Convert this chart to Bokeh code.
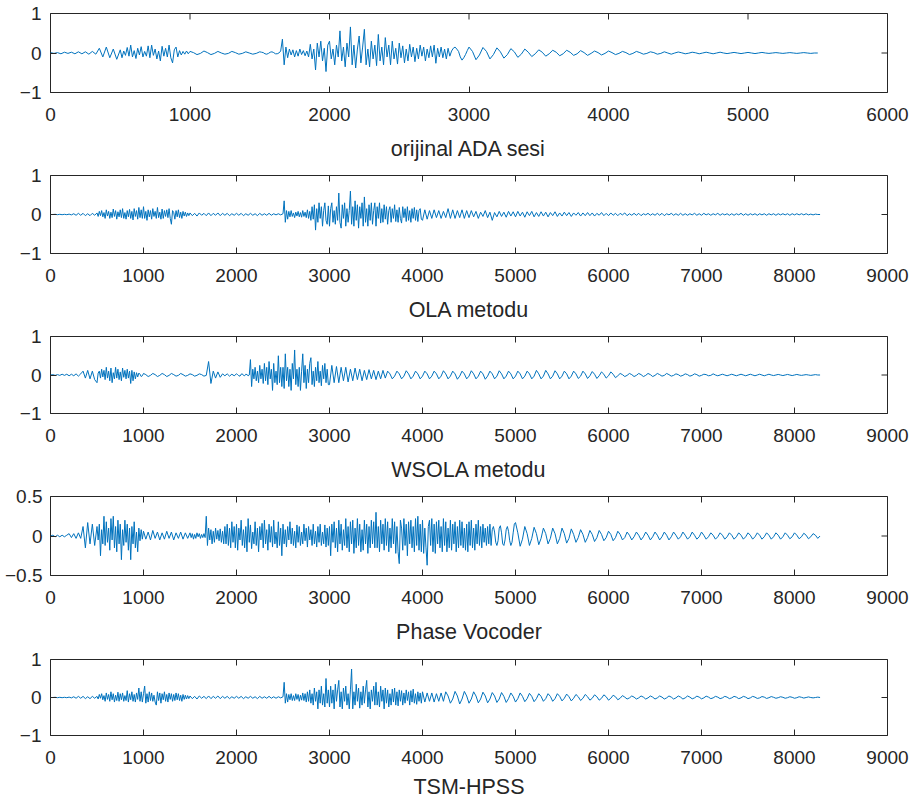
import math
from bokeh.plotting import figure
from bokeh.layouts import column
from bokeh.models import Range1d, FixedTicker, ColumnDataSource
from bokeh.embed import file_html
from bokeh.resources import INLINE

# Each series is a list of rows; one row = one 500-sample block of peak values
# (20 values = every 25 samples, 40 values = every 12.5 samples in busy parts).
BLOCK = 500

orijinal = [
    [0.01, -0.01, 0.01, -0.02, 0.02, -0.01, 0.02, -0.02, 0.03, -0.02, 0.03, -0.03, 0.04, -0.03, 0.12, -0.1, 0.15, -0.12, 0.1, -0.16],
    [0.08, -0.12, 0.05, -0.06, 0.14, -0.08, 0.2, -0.1, 0.06, -0.14,
     0.12, -0.05, 0.16, -0.1, 0.04, -0.08, 0.18, -0.12, 0.2, -0.06,
     0.1, -0.15, 0.05, -0.2, 0.17, -0.08, 0.12, -0.1, 0.2, -0.12,
     -0.25, 0.08, 0.15, -0.1, 0.06, -0.05, 0.04, -0.03, 0.05, -0.02],
    [0.04, 0.01, -0.04, -0.01, 0.05, 0.01, -0.04, -0.01, 0.04, 0.0, -0.03, -0.01, 0.04, 0.01, -0.03, -0.01, 0.03, 0.0, -0.03, -0.01],
    [0.03, 0.02, 0.01, -0.02, -0.03, -0.01, 0.02, 0.03, 0.01, -0.02, -0.02, 0.0,
     0.05, 0.35, -0.3, 0.15,
     -0.12, 0.1, -0.05, 0.08, -0.1, 0.06, -0.08, 0.1, -0.04, 0.06, -0.07, 0.05,
     -0.1, 0.22, -0.15, 0.1, -0.43, 0.25, -0.1, 0.3, -0.2, 0.12, -0.47, 0.2],
    [0.3, -0.15, 0.1, -0.3, 0.2, -0.1, 0.56, -0.2, 0.15, -0.35,
     0.25, -0.1, 0.66, -0.3, 0.2, -0.38, 0.1, 0.43, -0.25, 0.15,
     0.6, -0.3, 0.1, -0.35, 0.3, -0.15, 0.2, -0.32, 0.47, -0.2,
     0.15, -0.3, 0.39, -0.1, 0.2, -0.3, 0.3, -0.15, 0.12, -0.28],
    [0.25, -0.12, 0.18, -0.25, 0.1, -0.2, 0.22, -0.1, 0.15, -0.22,
     0.12, -0.15, 0.2, -0.08, 0.15, -0.2, 0.1, -0.12, 0.18, -0.1,
     0.2, -0.26, 0.12, -0.1, 0.15, -0.12, 0.1, -0.15, 0.12, -0.08,
     0.05, 0.12, 0.15, 0.1, 0.04, -0.1, -0.18, -0.12, -0.04, 0.06],
    [0.15, 0.04, -0.17, -0.05, 0.14, 0.04, -0.15, -0.04, 0.13, 0.03, -0.13, -0.04, 0.11, 0.03, -0.11, -0.03, 0.1, 0.02, -0.09, -0.02],
    [0.08, 0.02, -0.08, -0.02, 0.07, 0.02, -0.07, -0.02, 0.07, 0.02, -0.06, -0.02, 0.06, 0.01, -0.06, -0.01, 0.05, 0.01, -0.05, -0.01],
    [0.05, 0.01, -0.04, -0.01, 0.04, 0.01, -0.04, -0.01, 0.04, 0.01, -0.03, -0.01, 0.03, 0.01, -0.03, -0.01, 0.03, 0.0, -0.03, 0.0],
    [0.025, 0.005, -0.02, -0.005, 0.02, 0.005, -0.02, 0.0, 0.02, 0.0, -0.02, 0.0, 0.02, 0.0, -0.015, 0.0, 0.015, 0.0, -0.015, 0.0],
    [0.015, 0.0, -0.015, 0.0, 0.015, 0.0, -0.01, 0.0, 0.01, 0.0, -0.01, 0.0, 0.01, 0.0, -0.01, 0.0, 0.01, 0.0, -0.01, 0.0],
    [0.0],
]

ola = [
    [0.0, 0.0, 0.005, -0.005, 0.005, -0.005, 0.005, -0.005, 0.01, -0.01, 0.02, -0.02, 0.03, -0.02, 0.03, -0.03, 0.02, -0.03, 0.03, -0.02],
    [0.04, -0.05, 0.08, -0.03, 0.1, -0.06, 0.05, -0.1, 0.12, -0.04,
     0.08, -0.1, 0.06, -0.08, 0.14, -0.05, 0.1, -0.12, 0.07, -0.06,
     0.12, -0.08, 0.15, -0.1, 0.05, -0.12, 0.1, -0.06, 0.13, -0.1,
     0.08, -0.14, 0.15, -0.05, 0.1, -0.12, 0.18, -0.08, 0.12, -0.1],
    [0.2, -0.1, 0.08, -0.15, 0.12, -0.06, 0.1, -0.12, 0.15, -0.05,
     0.08, -0.1, 0.18, -0.08, 0.06, -0.12, 0.14, -0.1, 0.1, -0.05,
     0.12, -0.08, 0.15, -0.1, -0.25, 0.1, 0.05, -0.12, 0.1, -0.06,
     0.12, -0.08, 0.06, -0.1, 0.08, -0.04, 0.06, -0.05, 0.04, -0.03],
    [0.04, -0.03, 0.03, -0.04, 0.04, -0.02, 0.03, -0.03, 0.04, -0.03, 0.03, -0.02, 0.04, -0.03, 0.03, -0.02, 0.03, -0.03, 0.02, -0.02],
    [0.03, -0.02, 0.03, -0.03, 0.02, -0.02, 0.03, -0.02, 0.02, -0.03, 0.03, -0.02, 0.02, -0.02, 0.03, -0.02, 0.02, -0.01, 0.02, -0.01],
    [0.02, 0.35, -0.2, 0.1, -0.12, 0.08, -0.06, 0.1, -0.05, 0.04,
     -0.08, 0.06, -0.04, 0.08, -0.06, 0.05, -0.07, 0.1, -0.05, 0.06,
     -0.08, 0.12, -0.1, 0.08, -0.15, 0.2, -0.12, 0.25, -0.4, 0.15,
     -0.2, 0.3, -0.1, 0.2, -0.3, 0.1, 0.3, -0.15, -0.25, 0.22],
    [-0.3, 0.15, 0.3, -0.2, 0.1, -0.25, 0.2, -0.15, 0.55, -0.2,
     -0.35, 0.25, -0.1, 0.3, -0.3, 0.15, -0.2, 0.1, 0.6, -0.25,
     0.2, -0.3, 0.35, -0.15, 0.25, -0.35, 0.2, -0.1, 0.3, -0.3,
     0.45, -0.2, 0.15, -0.3, 0.25, -0.15, 0.3, -0.25, 0.1, 0.3],
    [-0.3, 0.2, -0.1, 0.3, -0.22, 0.15, -0.2, 0.25, -0.12, 0.2,
     -0.25, 0.1, 0.2, -0.2, 0.15, -0.1, 0.25, -0.18, 0.12, -0.2,
     0.18, -0.1, -0.22, 0.2, -0.08, 0.15, -0.18, 0.2, -0.15, 0.1,
     -0.2, 0.15, -0.1, 0.18, -0.15, 0.12, -0.18, 0.1, 0.15, -0.12],
    [-0.15, 0.12, -0.12, 0.1, -0.1, 0.12, -0.08, 0.1, -0.1, 0.08, -0.08, 0.15, -0.1, 0.12, -0.1, 0.1, -0.08, 0.12, -0.1, 0.1],
    [-0.08, 0.1, -0.06, 0.08, -0.1, 0.06, -0.05, 0.1, -0.08, 0.06, -0.15, 0.05, -0.06, 0.08, -0.05, 0.06, -0.07, 0.08, -0.04, 0.07],
    [-0.06, 0.08, -0.04, 0.06, -0.07, 0.07, -0.03, 0.08, -0.06, 0.05, -0.05, 0.07, -0.04, 0.06, -0.06, 0.05, -0.03, 0.07, -0.05, 0.04],
    [-0.04, 0.06, -0.03, 0.05, -0.05, 0.04, -0.02, 0.05, -0.04, 0.04, -0.03, 0.05, -0.03, 0.04, -0.04, 0.03, -0.02, 0.05, -0.03, 0.03],
    [-0.03, 0.04, -0.02, 0.03, -0.03, 0.03, -0.01, 0.04, -0.03, 0.02, -0.02, 0.03, -0.02, 0.03, -0.03, 0.02, -0.01, 0.03, -0.02, 0.02],
    [-0.02, 0.03, -0.02, 0.03, -0.03, 0.02, -0.01, 0.03, -0.02, 0.02, -0.02, 0.03, -0.02, 0.02, -0.02, 0.02, -0.01, 0.03, -0.02, 0.02],
    [-0.02, 0.03, -0.01, 0.02, -0.02, 0.02, -0.01, 0.03, -0.02, 0.02, -0.01, 0.02, -0.02, 0.02, -0.02, 0.02, -0.01, 0.03, -0.02, 0.02],
    [-0.02, 0.02, -0.01, 0.02, -0.02, 0.02, -0.01, 0.02, -0.02, 0.02, -0.01, 0.02, -0.02, 0.02, -0.01, 0.02, -0.01, 0.02, -0.02, 0.02],
    [-0.01, 0.02, -0.01, 0.02, -0.01, 0.02, -0.01, 0.01, -0.01, 0.01, 0.0, 0.0],
]

wsola = [
    [0.0, 0.01, -0.01, 0.01, -0.01, 0.02, -0.01, 0.02, -0.02, 0.02, -0.02, 0.03, -0.03, 0.03, 0.1, -0.08, 0.12, -0.1, 0.1, -0.12],
    [-0.2, 0.05, 0.1, -0.08, 0.15, -0.05, 0.12, -0.12, 0.2, -0.08,
     0.1, -0.15, 0.18, -0.2, 0.06, -0.1, 0.2, -0.08, 0.15, -0.12,
     0.08, -0.15, 0.18, -0.06, 0.12, -0.1, 0.15, -0.08, 0.1, -0.22,
     0.12, -0.15, 0.08, -0.1, 0.06, -0.05, 0.05, 0.02, -0.04, -0.02],
    [0.04, 0.01, -0.04, -0.01, 0.04, 0.01, -0.04, -0.01, 0.04, 0.01, -0.04, -0.01, 0.04, 0.01, -0.03, -0.01, 0.04, 0.01, -0.03, -0.01],
    [0.03, 0.01, -0.03, -0.01, 0.03, 0.01, -0.03, -0.01, 0.35, -0.22, 0.1, -0.08, 0.08, -0.06, 0.03, -0.02, 0.03, -0.03, 0.02, -0.02],
    [0.03, 0.01, -0.02, -0.03, 0.02, 0.03, -0.01, -0.02, 0.02, 0.01, -0.02, 0.0,
     0.4, -0.3, 0.15, -0.1, 0.2, -0.15, 0.1, -0.2, 0.25, -0.1,
     0.15, -0.22, 0.3, -0.15, 0.2, -0.25, 0.35, -0.1, 0.15, -0.4,
     0.3, -0.2, 0.1, -0.25, 0.5, -0.2, 0.2, -0.3],
    [0.2, -0.35, 0.55, -0.15, 0.2, -0.3, 0.15, -0.4, 0.3, -0.1,
     0.65, -0.25, 0.15, -0.3, 0.2, -0.4, 0.1, 0.55, -0.2, 0.25,
     -0.35, 0.15, -0.2, 0.3, 0.45, -0.25, 0.1, -0.3, 0.2, -0.15,
     0.35, -0.2, 0.1, -0.28, 0.25, -0.1, 0.3, -0.2, 0.15, -0.25],
    [-0.25, 0.25, -0.2, 0.22, -0.2, 0.2, -0.15, 0.2, -0.18, 0.15, -0.15, 0.18, -0.12, 0.15, -0.15, 0.12, -0.12, 0.14, -0.1, 0.12],
    [-0.12, 0.1, -0.1, 0.12, -0.08, 0.1, 0.03, -0.1, -0.03, 0.1, 0.03, -0.1, -0.03, 0.11, 0.03, -0.1, -0.03, 0.1, 0.03, -0.1],
    [-0.03, 0.1, 0.03, -0.1, -0.03, 0.1, 0.03, -0.1, -0.03, 0.11, 0.03, -0.1, -0.03, 0.1, 0.03, -0.11, -0.03, 0.1, 0.03, -0.1],
    [-0.03, 0.11, 0.03, -0.1, -0.03, 0.1, 0.03, -0.11, -0.03, 0.1, 0.03, -0.1, -0.03, 0.11, 0.03, -0.1, -0.03, 0.1, 0.03, -0.1],
    [-0.03, 0.1, 0.03, -0.1, -0.03, 0.1, 0.03, -0.1, -0.03, 0.12, 0.03, -0.1, -0.03, 0.12, 0.03, -0.1, -0.03, 0.11, 0.03, -0.1],
    [-0.03, 0.1, 0.03, -0.1, -0.03, 0.1, 0.03, -0.09, -0.03, 0.1, 0.03, -0.09, -0.02, 0.09, 0.02, -0.09, -0.02, 0.08, 0.02, -0.08],
    [-0.02, 0.08, 0.02, -0.07, -0.02, 0.04, 0.01, -0.04, -0.01, 0.04, 0.01, -0.04, -0.01, 0.04, 0.01, -0.04, -0.01, 0.04, 0.01, -0.04],
    [-0.01, 0.04, 0.01, -0.03, -0.01, 0.04, 0.01, -0.03, -0.01, 0.03, 0.01, -0.03, -0.01, 0.03, 0.01, -0.03, -0.01, 0.03, 0.01, -0.03],
    [-0.01, 0.02, 0.01, -0.02, -0.01, 0.03, 0.0, -0.02, 0.0, 0.02, 0.0, -0.02, 0.0, 0.02, 0.0, -0.02, 0.0, 0.02, 0.0, -0.02],
    [0.0, 0.02, 0.0, -0.02, 0.0, 0.02, 0.0, -0.02, 0.0, 0.02, 0.0, -0.015, 0.0, 0.015, 0.0, -0.015, 0.0, 0.015, 0.0, -0.015],
    [0.0, 0.015, 0.0, -0.01, 0.0, 0.01, 0.0, -0.01, 0.0, 0.01, 0.0, 0.0],
]

vocoder = [
    [0.0, 0.01, -0.01, 0.01, -0.01, 0.01, -0.01, 0.01, 0.03, -0.02, 0.03, -0.03, 0.04, -0.03, 0.12, -0.15, 0.17, -0.1, 0.15, -0.12],
    [0.12, -0.05, 0.15, -0.25, 0.08, -0.1, 0.25, -0.12, 0.18, -0.08,
     0.1, -0.18, 0.22, -0.05, 0.25, -0.15, 0.12, -0.2, 0.2, -0.1,
     0.15, -0.3, 0.08, -0.12, 0.2, -0.08, 0.15, -0.18, 0.1, -0.3,
     0.12, -0.1, 0.18, -0.15, 0.05, -0.2, 0.1, -0.06, 0.08, -0.04],
    [0.06, -0.04, 0.05, -0.05, 0.07, -0.03, 0.05, -0.05, 0.04, -0.04, 0.06, -0.03, 0.05, -0.05, 0.04, -0.03, 0.05, -0.04, 0.04, -0.03],
    [0.04, -0.02, 0.03, -0.04, 0.02, -0.03, 0.04, -0.01, 0.03, -0.03, 0.02, -0.02, 0.03, -0.02, 0.25, -0.12,
     0.1, -0.05, 0.08, -0.1, 0.06, -0.08, 0.1, -0.04, 0.07, -0.06, 0.09, -0.08, 0.06, -0.1,
     0.12, -0.1, 0.15, -0.12, 0.1, -0.15, 0.18, -0.08, 0.12, -0.15],
    [0.15, -0.18, 0.1, -0.05, 0.2, -0.12, 0.08, -0.15, 0.12, -0.2,
     0.22, -0.08, 0.14, -0.16, 0.05, -0.1, 0.18, -0.12, 0.1, -0.2,
     0.12, -0.05, 0.16, -0.15, 0.2, -0.1, 0.08, -0.18, 0.15, -0.08,
     0.12, -0.14, 0.2, -0.1, 0.05, -0.15, 0.18, -0.12, 0.1, -0.25],
    [0.15, -0.1, 0.08, -0.14, 0.12, -0.05, 0.18, -0.1, 0.1, -0.12,
     0.06, -0.15, 0.14, -0.08, 0.12, -0.12, 0.05, -0.1, 0.15, -0.06,
     0.1, -0.14, 0.12, -0.05, 0.08, -0.12, 0.15, -0.1, 0.06, -0.14,
     0.12, -0.08, 0.15, -0.12, 0.05, -0.1, 0.14, -0.14, 0.1, -0.12],
    [0.12, -0.25, 0.15, -0.08, 0.18, -0.15, 0.1, -0.2, 0.2, -0.1,
     0.15, -0.18, 0.08, -0.12, 0.22, -0.15, 0.12, -0.2, 0.18, -0.1,
     0.2, -0.22, 0.1, -0.15, 0.22, -0.12, 0.15, -0.2, 0.08, -0.18,
     0.2, -0.1, 0.15, -0.22, 0.12, -0.15, 0.2, -0.1, 0.18, -0.15],
    [0.3, -0.15, 0.12, -0.2, 0.2, -0.1, 0.15, -0.18, 0.22, -0.12,
     0.18, -0.2, 0.1, -0.15, 0.22, -0.1, 0.18, -0.22, 0.12, -0.2,
     -0.35, 0.2, 0.1, -0.18, 0.22, -0.12, 0.15, -0.25, 0.18, -0.1,
     0.2, -0.15, 0.12, -0.2, 0.22, -0.12, 0.25, -0.18, 0.15, -0.2],
    [0.2, -0.22, 0.1, -0.15, -0.37, 0.12, 0.2, -0.12, 0.22, -0.2,
     0.15, -0.22, 0.18, -0.1, 0.2, -0.15, 0.12, -0.2, 0.22, -0.12,
     0.18, -0.2, 0.1, -0.15, 0.2, -0.18, 0.15, -0.1, 0.18, -0.2,
     0.12, -0.15, 0.2, -0.12, 0.18, -0.15, 0.1, -0.18, 0.15, -0.2],
    [0.18, -0.12, 0.2, -0.15, 0.1, -0.18, 0.15, -0.1, 0.2, -0.12,
     0.12, -0.15, 0.15, -0.08, 0.1, -0.12, 0.12, -0.1, 0.15, -0.12,
     0.08, 0.12, 0.05, -0.08, -0.12, -0.06, 0.1, 0.13, 0.04, -0.1,
     -0.12, -0.05, 0.08, 0.12, 0.06, -0.06, -0.12, -0.08, 0.04, 0.15],
    [0.17, 0.04, -0.13, -0.04, 0.12, 0.03, -0.12, -0.03, 0.11, 0.03, -0.11, -0.03, 0.1, 0.03, -0.1, -0.03, 0.1, 0.03, -0.1, -0.03],
    [0.1, 0.03, -0.09, -0.03, 0.09, 0.02, -0.08, -0.02, 0.08, 0.02, -0.08, -0.02, 0.07, 0.02, -0.07, -0.02, 0.07, 0.02, -0.06, -0.02],
    [0.06, 0.02, -0.06, -0.02, 0.06, 0.02, -0.05, -0.02, 0.05, 0.01, -0.05, -0.01, 0.05, 0.01, -0.05, -0.01, 0.05, 0.01, -0.05, -0.01],
    [0.05, 0.01, -0.05, -0.01, 0.05, 0.01, -0.05, -0.01, 0.05, 0.01, -0.04, -0.01, 0.05, 0.01, -0.04, -0.01, 0.05, 0.01, -0.04, -0.01],
    [0.05, 0.01, -0.04, -0.01, 0.04, 0.01, -0.04, -0.01, 0.04, 0.01, -0.04, -0.01, 0.04, 0.01, -0.04, -0.01, 0.04, 0.01, -0.04, -0.01],
    [0.04, 0.01, -0.04, -0.01, 0.04, 0.01, -0.04, -0.01, 0.04, 0.01, -0.04, -0.01, 0.04, 0.01, -0.04, -0.01, 0.04, 0.01, -0.035, -0.01],
    [0.04, 0.01, -0.035, -0.01, 0.035, 0.01, -0.035, -0.01, 0.03, 0.01, -0.03, 0.0],
]

hpss = [
    [0.0, 0.0, 0.005, -0.005, 0.005, -0.005, 0.005, -0.005, 0.01, -0.01, 0.02, -0.02, 0.03, -0.02, 0.03, -0.03, 0.02, -0.03, 0.03, -0.02],
    [0.03, -0.04, 0.08, -0.02, 0.1, -0.06, 0.05, -0.1, 0.12, -0.05,
     0.08, -0.1, 0.15, -0.06, 0.1, -0.12, 0.06, -0.08, 0.14, -0.1,
     0.1, -0.06, 0.12, -0.1, 0.05, -0.08, 0.18, -0.12, 0.1, -0.06,
     0.15, -0.1, 0.08, -0.12, 0.12, -0.05, 0.25, -0.1, 0.15, -0.12],
    [0.1, 0.3, -0.15, 0.1, -0.12, 0.15, -0.08, 0.12, -0.1, 0.06,
     -0.12, -0.2, 0.15, -0.08, 0.12, -0.15, 0.1, -0.06, 0.15, -0.1,
     0.08, -0.12, 0.12, -0.05, 0.1, -0.1, 0.08, -0.08, 0.12, -0.06,
     0.1, -0.08, 0.06, -0.1, 0.08, -0.05, 0.06, -0.04, 0.05, -0.03],
    [0.04, -0.03, 0.03, -0.04, 0.04, -0.02, 0.03, -0.03, 0.04, -0.03, 0.03, -0.02, 0.04, -0.03, 0.03, -0.02, 0.03, -0.03, 0.02, -0.02],
    [0.03, -0.02, 0.03, -0.03, 0.02, -0.02, 0.03, -0.02, 0.02, -0.03, 0.03, -0.02, 0.02, -0.02, 0.03, -0.02, 0.02, -0.02, 0.02, -0.01],
    [0.02, 0.4, -0.15, 0.1, -0.12, 0.08, -0.06, 0.1, -0.08, 0.05,
     -0.08, 0.1, -0.05, 0.08, -0.1, 0.06, -0.07, 0.12, -0.08, 0.1,
     -0.12, 0.15, -0.1, 0.2, -0.15, 0.1, -0.2, 0.25, -0.1, 0.15,
     -0.3, 0.2, -0.15, 0.3, -0.2, 0.1, -0.25, 0.5, -0.15, 0.2],
    [-0.25, 0.3, -0.15, 0.2, -0.3, 0.35, -0.1, 0.2, 0.45, -0.25,
     0.15, -0.3, 0.25, -0.1, 0.3, -0.2, 0.1, -0.3, 0.2, 0.75,
     -0.3, 0.15, -0.2, 0.35, -0.1, 0.25, -0.28, 0.15, -0.2, 0.3,
     -0.15, 0.2, 0.45, -0.25, 0.15, -0.3, 0.2, -0.1, 0.3, -0.2],
    [0.4, -0.2, 0.15, -0.25, 0.3, -0.1, 0.2, -0.3, 0.25, -0.15,
     0.2, -0.25, 0.1, -0.2, 0.22, -0.12, 0.25, -0.2, 0.15, -0.22,
     0.2, -0.1, 0.18, -0.2, 0.12, -0.15, 0.2, -0.08, 0.15, -0.2,
     0.18, -0.12, 0.22, -0.15, 0.1, -0.18, 0.15, -0.1, 0.12, -0.15],
    [0.15, -0.12, 0.12, -0.1, 0.12, -0.12, 0.1, -0.1, 0.12, -0.1, 0.15, 0.04, -0.15, -0.04, 0.16, 0.04, -0.17, -0.04, 0.16, 0.04],
    [-0.15, -0.04, 0.15, 0.04, -0.14, -0.04, 0.14, 0.04, -0.14, -0.04, 0.13, 0.04, -0.13, -0.04, 0.13, 0.03, -0.13, -0.03, 0.12, 0.03],
    [-0.12, -0.03, 0.12, 0.03, -0.11, -0.03, 0.11, 0.03, -0.11, -0.03, 0.1, 0.03, -0.1, -0.03, 0.1, 0.03, -0.1, -0.03, 0.1, 0.03],
    [-0.09, -0.02, 0.09, 0.02, -0.09, -0.02, 0.08, 0.02, -0.08, -0.02, 0.08, 0.02, -0.07, -0.02, 0.07, 0.02, -0.07, -0.02, 0.07, 0.02],
    [-0.07, -0.02, 0.06, 0.02, -0.06, -0.02, 0.05, 0.01, -0.04, -0.01, 0.04, 0.01, -0.04, -0.01, 0.04, 0.01, -0.04, -0.01, 0.04, 0.01],
    [-0.04, -0.01, 0.04, 0.01, -0.04, -0.01, 0.04, 0.01, -0.04, -0.01, 0.04, 0.01, -0.04, -0.01, 0.04, 0.01, -0.035, -0.01, 0.035, 0.01],
    [-0.035, -0.01, 0.035, 0.01, -0.03, -0.01, 0.03, 0.01, -0.03, -0.01, 0.03, 0.01, -0.03, -0.01, 0.03, 0.01, -0.03, -0.01, 0.03, 0.01],
    [-0.03, -0.01, 0.03, 0.01, -0.025, -0.01, 0.025, 0.01, -0.025, -0.005, 0.025, 0.005, -0.02, -0.005, 0.02, 0.005, -0.02, -0.005, 0.02, 0.005],
    [-0.02, -0.005, 0.02, 0.005, -0.015, 0.0, 0.015, 0.0, -0.01, 0.0, 0.01, 0.0],
]

labels = ["orijinal ADA sesi", "OLA metodu", "WSOLA metodu", "Phase Vocoder", "TSM-HPSS"]
series = [orijinal, ola, wsola, vocoder, hpss]
x_max = [6000, 9000, 9000, 9000, 9000]
y_lims = [(-1, 1), (-1, 1), (-1, 1), (-0.5, 0.5), (-1, 1)]
y_ticks = [[-1, 0, 1], [-1, 0, 1], [-1, 0, 1], [-0.5, 0, 0.5], [-1, 0, 1]]
x_tick_step = 1000

LINE = "#0072BD"
INK = "#262626"
FONT = "Liberation Sans"

heights = [163, 161, 160, 162, 155]
tops = [13, 12, 12, 12, 13]
label_gap = [13, 13, 13, 13, 8]
TICK = 6


def expand(rows):
    xs, ys = [], []
    for r, row in enumerate(rows):
        step = BLOCK / 40 if len(row) > 20 else BLOCK / 20
        for k, v in enumerate(row):
            xs.append(r * BLOCK + k * step)
            ys.append(v)
    return xs, ys


def style_axis(ax, standoff):
    ax.axis_line_color = None
    ax.major_tick_in = TICK
    ax.major_tick_out = 0
    ax.minor_tick_line_color = None
    ax.major_tick_line_color = INK
    ax.major_tick_line_width = 1
    ax.major_label_text_font = FONT
    ax.major_label_text_font_size = "19px"
    ax.major_label_text_color = INK
    ax.major_label_standoff = standoff


figs = []
for i in range(5):
    xs, ys = expand(series[i])
    src = ColumnDataSource(dict(x=xs, y=ys))
    y0, y1 = y_lims[i]
    p = figure(width=912, height=heights[i],
               x_range=Range1d(0, x_max[i]), y_range=Range1d(y0, y1),
               output_backend="svg", toolbar_location=None,
               min_border_left=50, min_border_right=25,
               min_border_top=tops[i], min_border_bottom=heights[i] - tops[i] - 80)
    p.grid.visible = False
    p.background_fill_color = "white"
    p.border_fill_color = "white"
    p.outline_line_color = INK
    p.outline_line_width = 1
    p.outline_line_alpha = 1

    xt = list(range(0, x_max[i] + 1, x_tick_step))

    xb = p.xaxis[0]
    xb.ticker = FixedTicker(ticks=xt)
    style_axis(xb, 15)
    xb.axis_label = labels[i]
    xb.axis_label_text_font = FONT
    xb.axis_label_text_font_size = "21.5px"
    xb.axis_label_text_font_style = "normal"
    xb.axis_label_text_color = INK
    xb.axis_label_standoff = label_gap[i]

    yl = p.yaxis[0]
    yl.ticker = FixedTicker(ticks=y_ticks[i])
    style_axis(yl, 8 if i == 3 else 9)

    # inward tick marks on the top and right edges of the box (MATLAB "box on")
    p.scatter(x=xt, y=[y1] * len(xt), marker="dash", angle=math.pi / 2,
              size=2 * TICK, line_color=INK, line_width=1)
    p.scatter(x=[x_max[i]] * len(y_ticks[i]), y=y_ticks[i], marker="dash",
              size=2 * TICK, line_color=INK, line_width=1)

    p.line("x", "y", source=src, line_color=LINE, line_width=1)
    figs.append(p)

layout = column(*figs, spacing=0)
open("out.html", "w").write(file_html(layout, INLINE))
